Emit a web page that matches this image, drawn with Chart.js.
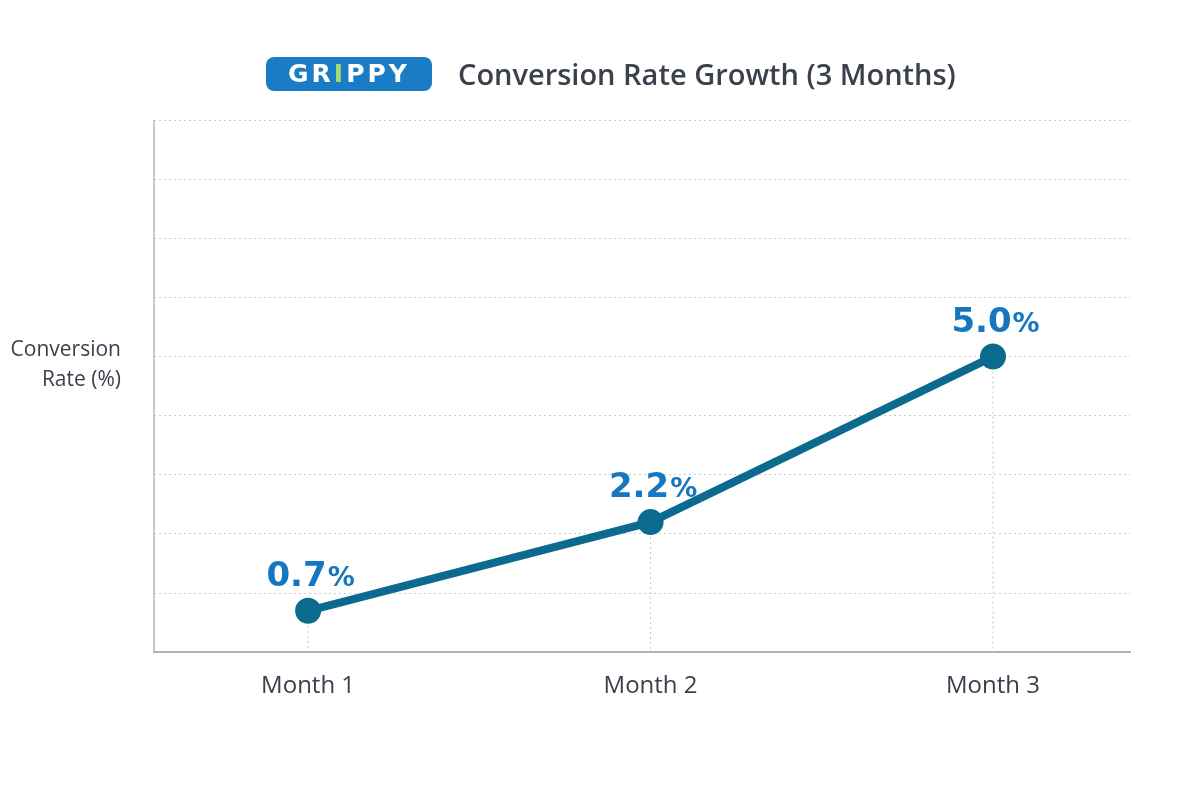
<!DOCTYPE html>
<html>
<head>
<meta charset="utf-8">
<script src="https://cdn.jsdelivr.net/npm/chart.js@4.4.1/dist/chart.umd.min.js"></script>
<style>
  html, body { margin: 0; padding: 0; background: #fff; }
  #wrap { position: relative; width: 1200px; height: 800px; }
  #chart { position: absolute; left: 0; top: 0; }
  #header { position: absolute; top: 54px; left: 266px; display: flex; align-items: center; }
  #logo { width: 166px; height: 34px; background: #1a7cc4; border-radius: 8px;
    color: #fff; font: 800 25px "DejaVu Sans", sans-serif; letter-spacing: 3px;
    display: flex; align-items: center; justify-content: center; }
  #logo span { color: #a9d86e; }
  #title { margin-left: 26px; font: 600 29px "Open Sans", "Noto Sans", sans-serif; color: #3a414d; }
  #ytitle { position: absolute; left: 0; width: 121px; top: 333px; text-align: right;
    font: 21px "Open Sans", "Noto Sans", sans-serif; color: #3a414d; line-height: 30px; }
</style>
</head>
<body>
<div id="wrap">
  <canvas id="chart" width="1200" height="800"></canvas>
  <div id="header">
    <div id="logo">GR<span>I</span>PPY</div>
    <div id="title">Conversion Rate Growth (3 Months)</div>
  </div>
  <div id="ytitle">Conversion<br>Rate (%)</div>
</div>
<script>
var months = ["Month 1", "Month 2", "Month 3"];
var monthPos = [1, 2, 3];
var rates = [0.7, 2.2, 5.0];

var points = [];
for (var i = 0; i < months.length; i++) {
  points.push({ x: monthPos[i], y: rates[i] });
}

// dotted drop lines from each point down to the x axis, plus a solid left axis line
var dropLines = {
  id: 'dropLines',
  beforeDatasetsDraw: function(chart) {
    var ctx = chart.ctx;
    var xs = chart.scales.x, ys = chart.scales.y;
    var area = chart.chartArea;
    ctx.save();
    ctx.strokeStyle = '#b4b6ba';
    ctx.lineWidth = 1.5;
    ctx.beginPath();
    ctx.moveTo(area.left, area.top);
    ctx.lineTo(area.left, area.bottom);
    ctx.stroke();

    ctx.strokeStyle = '#c8c8c8';
    ctx.lineWidth = 1;
    ctx.setLineDash([2, 3]);
    for (var i = 0; i < points.length; i++) {
      var px = xs.getPixelForValue(points[i].x);
      ctx.beginPath();
      ctx.moveTo(px, ys.getPixelForValue(points[i].y));
      ctx.lineTo(px, ys.getPixelForValue(0));
      ctx.stroke();
    }
    ctx.restore();
  }
};

// value labels above the points, with a smaller % sign
var valueLabels = {
  id: 'valueLabels',
  afterDatasetsDraw: function(chart) {
    var ctx = chart.ctx;
    var meta = chart.getDatasetMeta(0);
    ctx.save();
    ctx.fillStyle = '#1577c0';
    ctx.textBaseline = 'alphabetic';
    meta.data.forEach(function(pt, i) {
      var num = rates[i].toFixed(1);
      ctx.font = 'bold 34px "DejaVu Sans", sans-serif';
      var w1 = ctx.measureText(num).width;
      ctx.font = 'bold 27px "DejaVu Sans", sans-serif';
      var w2 = ctx.measureText('%').width;
      var x0 = pt.x - (w1 + w2) / 2 + 2;
      var y0 = pt.y - 25;
      ctx.font = 'bold 34px "DejaVu Sans", sans-serif';
      ctx.fillText(num, x0, y0);
      ctx.font = 'bold 27px "DejaVu Sans", sans-serif';
      ctx.fillText('%', x0 + w1 + 1, y0);
    });
    ctx.restore();
  }
};

var ctx = document.getElementById('chart').getContext('2d');
var chart = new Chart(ctx, {
  type: 'line',
  data: {
    datasets: [{
      data: points,
      borderColor: '#0b6a8e',
      backgroundColor: '#0b6a8e',
      borderWidth: 8,
      pointRadius: 9,
      pointHoverRadius: 9,
      tension: 0
    }]
  },
  options: {
    responsive: false,
    animation: false,
    layout: { padding: { left: 154, right: 70, top: 120, bottom: 79 } },
    plugins: { legend: { display: false }, tooltip: { enabled: false } },
    scales: {
      x: {
        type: 'linear',
        min: 0.55,
        max: 3.4,
        ticks: {
          stepSize: 1,
          includeBounds: false,
          padding: 20,
          color: '#3a414d',
          font: { family: '"Open Sans", "Noto Sans", sans-serif', size: 24 },
          callback: function(v) { return months[monthPos.indexOf(v)] || ''; }
        },
        grid: { display: false, drawTicks: false },
        border: { display: true, color: '#aeb0b5', width: 2 }
      },
      y: {
        min: 0,
        max: 9,
        ticks: { display: false, stepSize: 1 },
        grid: { color: '#cbcbcb', drawTicks: false, lineWidth: 1 },
        border: { display: false, dash: [2, 3] }
      }
    }
  },
  plugins: [dropLines, valueLabels]
});
</script>
</body>
</html>
